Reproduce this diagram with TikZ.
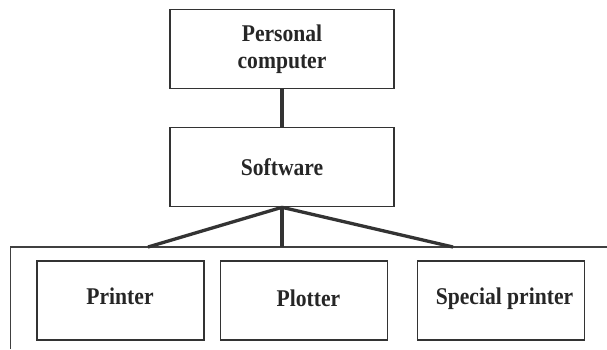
\documentclass[tikz,border=0pt]{standalone}
\usepackage{fontspec}
\setmainfont{Liberation Serif}
\newfontfamily\labelfont[FakeStretch=0.9]{Liberation Serif}
\begin{document}
\begin{tikzpicture}[x=1pt,y=-1pt,
  lbl/.style={font=\labelfont\fontsize{24}{26.5}\selectfont\bfseries, text=black!85, align=center},
  box/.style={draw=black!80, line width=1.2pt, minimum width=#1, inner sep=0pt, lbl},
  box/.default=224pt,
  link/.style={draw=black!80, line width=3.3pt},
  frame/.style={draw=black!75, line width=1.1pt}]
\useasboundingbox (0,0) rectangle (607,349);

% upper chain
\node[box=224pt, minimum height=79.4pt] (pc) at (282,49) {Personal\\computer};
\node[box=224pt, minimum height=79.4pt] (sw) at (282,167) {Software};

% output devices
\node[box=167pt, minimum height=79pt] (prn) at (120.5,300.5) {};
\node[box=167pt, minimum height=79pt] (plt) at (304.3,300.5) {};
\node[box=167pt, minimum height=79pt] (spp) at (501,300.5) {};
\node[lbl] (prnt) at (120,296) {Printer};
\node[lbl] (pltt) at (308.5,298.5) {Plotter};
\node[lbl] (sppt) at (504.5,298.5) {Special printer};

% enclosing frame
\coordinate (fl) at (10.7,349);
\coordinate (ftl) at (10.7,247);
\coordinate (fr) at (607,247);
\draw[frame] (fl) -- (ftl) -- (fr);

% connector ends on the frame line
\coordinate (ja) at (148,247);
\coordinate (jb) at (282,247);
\coordinate (jc) at (453,247);

\draw[link] (pc.south) -- (sw.north);
\draw[link] (sw.south) -- (ja);
\draw[link] (sw.south) -- (jb);
\draw[link] (sw.south) -- (jc);
\end{tikzpicture}
\end{document}
